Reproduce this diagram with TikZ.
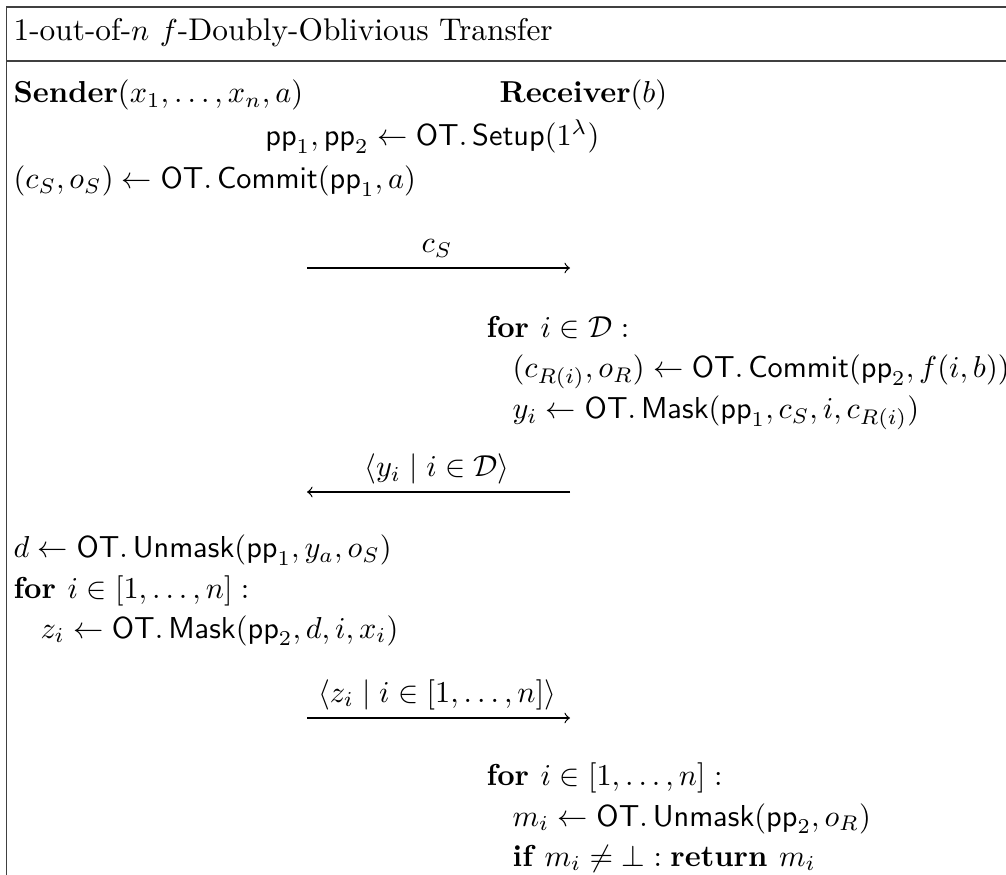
\documentclass[tikz,border=0pt]{standalone}
\usepackage{amsmath,amssymb}
\usepackage{xcolor}

\newcommand{\ot}[1]{\mathsf{OT}.\,\mathsf{#1}}
\newcommand{\pp}[1]{\mathsf{pp}_{#1}}

\begin{document}
\begin{tikzpicture}[x=0.33pt,y=0.33pt,yscale=-1,xscale=1,
  txt/.style={anchor=base west,inner sep=0pt},
  lbl/.style={anchor=base,inner sep=0pt},
  msg/.style={->,line width=0.4pt},
  frame/.style={line width=0.6pt,color=black!75}]
\useasboundingbox (0,0) rectangle (1006,875);

%Frame
\draw [frame] (6.5,875) -- (6.5,7) -- (1006,7) ;
\draw [frame] (6.5,61) -- (1006,61) ;

% Text Node
\node [txt,font=\fontsize{10.35}{12.4}\selectfont] (title) at (13,41) {1-out-of-$n$ $f$-Doubly-Oblivious Transfer};
% Text Node
\node [txt] (sender) at (13,103) {$\textbf{Sender}(x_1,\ldots,x_n,a)$};
% Text Node
\node [txt] (receiver) at (499,103) {$\textbf{Receiver}(b)$};
% Text Node
\node [anchor=base east,inner sep=0pt] (setup) at (600,146) {$\pp{1},\pp{2}\leftarrow\ot{Setup}(1^\lambda)$};
% Text Node
\node [txt] (commitS) at (13,189) {$(c_S,o_S)\leftarrow\ot{Commit}(\pp{1},a)$};

%Straight Lines
\coordinate (m1a) at (307,268) ;
\coordinate (m1b) at (570,268) ;
\draw [msg] (m1a) -- (m1b) ;
\node [lbl] (m1) at (437,253) {$c_S$};

% Text Node
\node [txt] (forR) at (486,338) {$\textbf{for }i\in\mathcal{D}:$};
% Text Node
\node [txt] (commitR) at (512,378) {$(c_{R(i)},o_R)\leftarrow\ot{Commit}(\pp{2},f(i,b))$};
% Text Node
\node [txt] (maskR) at (512,419) {$y_i\leftarrow\ot{Mask}(\pp{1},c_S,i,c_{R(i)})$};

%Straight Lines
\coordinate (m2a) at (570,492) ;
\coordinate (m2b) at (307,492) ;
\draw [msg] (m2a) -- (m2b) ;
\node [lbl] (m2) at (437,477) {$\langle y_i\mid i\in\mathcal{D}\rangle$};

% Text Node
\node [txt] (unmaskS) at (13,558) {$d\leftarrow\ot{Unmask}(\pp{1},y_a,o_S)$};
% Text Node
\node [txt] (forS) at (13,598) {$\textbf{for }i\in[1,\ldots,n]:$};
% Text Node
\node [txt] (maskS) at (40,638) {$z_i\leftarrow\ot{Mask}(\pp{2},d,i,x_i)$};

%Straight Lines
\coordinate (m3a) at (307,718) ;
\coordinate (m3b) at (570,718) ;
\draw [msg] (m3a) -- (m3b) ;
\node [lbl] (m3) at (437,702) {$\langle z_i\mid i\in[1,\ldots,n]\rangle$};

% Text Node
\node [txt] (forR2) at (486,785) {$\textbf{for }i\in[1,\ldots,n]:$};
% Text Node
\node [txt] (unmaskR) at (512,826) {$m_i\leftarrow\ot{Unmask}(\pp{2},o_R)$};
% Text Node
\node [txt] (ret) at (512,866) {$\textbf{if }m_i\neq\bot:\textbf{return }m_i$};

\end{tikzpicture}
\end{document}
